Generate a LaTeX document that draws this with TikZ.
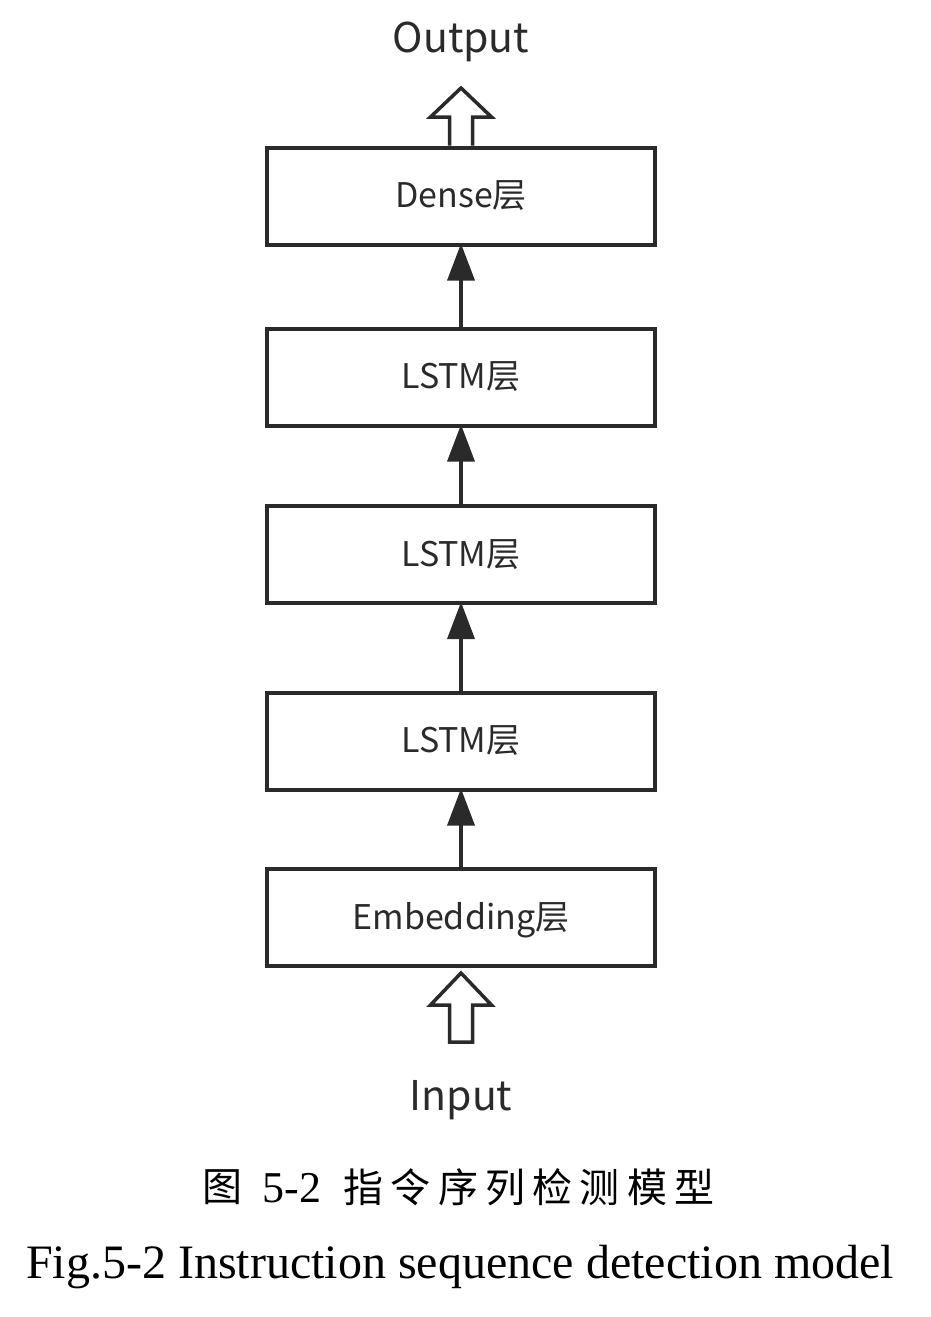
\documentclass[tikz,border=0pt]{standalone}
\usepackage{fontspec}
\setmainfont{Liberation Serif}
\newfontfamily\cjk{Noto Sans CJK SC}
\usetikzlibrary{arrows.meta}
\definecolor{ink}{HTML}{2A2A2A}
\tikzset{
  layerbox/.style={draw=ink, line width=4pt, minimum width=388pt, minimum height=97pt, inner sep=0pt, font=\cjk\fontsize{34}{38}\selectfont, text=ink, text depth=3pt},
  flowarrow/.style={draw=ink, line width=3.5pt, -{Triangle[length=37pt,width=27pt]}},
  hollow/.style={draw=ink, line width=3.5pt, fill=white, line join=miter},
  iolabel/.style={font=\cjk\fontsize{41}{46}\selectfont, text=ink, inner sep=0pt},
  caption/.style={inner sep=0pt, text=black}
}
\begin{document}
\begin{tikzpicture}[x=1pt,y=-1pt]
\useasboundingbox (0,0) rectangle (931,1317);
\node[iolabel] (out) at (461,42) {Output};
\node[layerbox] (dense) at (461,196) {Dense层};
\node[layerbox] (lstm3) at (461,377) {LSTM层};
\node[layerbox] (lstm2) at (461,554.5) {LSTM层};
\node[layerbox] (lstm1) at (461,741) {LSTM层};
\node[layerbox] (emb) at (461,917.5) {Embedding层};
\node[iolabel] (in) at (461,1100) {Input};

\draw[flowarrow] (lstm3.north) -- ([yshift=3pt]dense.south);
\draw[flowarrow] (lstm2.north) -- ([yshift=3pt]lstm3.south);
\draw[flowarrow] (lstm1.north) -- ([yshift=3pt]lstm2.south);
\draw[flowarrow] (emb.north) -- ([yshift=3pt]lstm1.south);

% hollow output arrow
\coordinate (otip) at (461,88);
\draw[hollow] ([xshift=-11.5pt]dense.north) -- (449.5,117) -- (430.5,117) -- (otip) -- (491.5,117) -- (472.5,117) -- ([xshift=11.5pt]dense.north);
% hollow input arrow
\coordinate (itip) at (461,973);
\draw[hollow] (449.5,1042) -- (449.5,1005) -- (430.5,1005) -- (itip) -- (491.5,1005) -- (472.5,1005) -- (472.5,1042) -- cycle;

\node[caption, font=\cjk\fontsize{40}{44}\selectfont] (c1a) at (222,1187) {图};
\node[caption, font=\fontsize{44}{48}\selectfont] (c1b) at (292,1188) {5-2};
\node[caption, font=\cjk\fontsize{40}{44}\selectfont] (c1c) at (529,1187) {\addfontfeature{LetterSpace=18}指令序列检测模型};
\node[caption, anchor=base, font=\fontsize{48}{52}\selectfont] (c2) at (460,1278) {Fig.5-2 Instruction sequence detection model};
\end{tikzpicture}
\end{document}
